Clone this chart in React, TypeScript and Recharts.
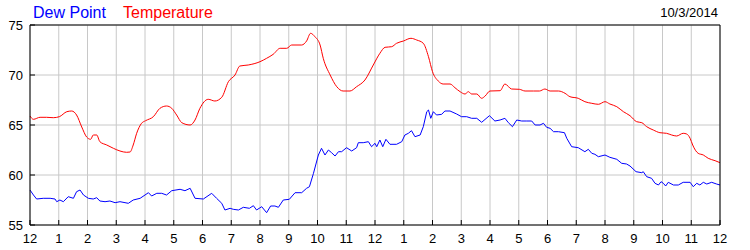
import { LineChart, Line, XAxis, YAxis, CartesianGrid } from 'recharts'

// hours since midnight, 10/3/2014
const tempHours = [
  0, 0.12, 0.35, 0.58, 0.81, 1.02, 1.28, 1.45, 1.62, 1.8, 1.97, 2.11, 2.2, 2.32, 2.43, 2.67, 2.9, 3.13, 3.36, 3.48,
  3.59, 3.71, 3.88, 4.02, 4.29, 4.52, 4.75, 4.93, 5.1, 5.28, 5.57, 5.74, 5.91, 6.2, 6.43, 6.67, 6.9, 7.13, 7.3, 7.59,
  8.0, 8.23, 8.46, 8.7, 8.93, 9.1, 9.45, 9.62, 9.76, 9.91, 10.09, 10.2, 10.44, 10.67, 10.89, 11.13, 11.36, 11.65, 11.94, 12.17,
  12.35, 12.58, 12.75, 12.99, 13.25, 13.45, 13.68, 13.86, 14.0, 14.2, 14.37, 14.61, 14.78, 14.96, 15.13, 15.25, 15.36, 15.54, 15.71, 15.83,
  16.0, 16.35, 16.52, 16.75, 17.02, 17.22, 17.51, 17.72, 17.91, 18.09, 18.38, 18.61, 18.78, 19.07, 19.3, 19.54, 19.77, 20.0, 20.17, 20.41,
  20.64, 20.87, 21.1, 21.28, 21.45, 21.68, 21.91, 22.14, 22.32, 22.49, 22.72, 22.84, 22.96, 23.05, 23.24, 23.42, 23.59, 23.83, 24.0,
]
const tempValues = [
  65.9, 65.57, 65.77, 65.77, 65.73, 65.83, 66.33, 66.4, 66.0, 64.8, 63.8, 63.57, 64.0, 64.0, 63.33, 63.0, 62.67, 62.4, 62.27, 62.3,
  63.0, 64.17, 65.17, 65.43, 65.83, 66.67, 66.9, 66.67, 66.0, 65.23, 65.0, 65.5, 66.67, 67.57, 67.4, 67.77, 69.33, 70.0, 70.9, 71.0,
  71.33, 71.67, 72.07, 72.67, 72.67, 73.0, 73.0, 73.4, 74.17, 73.83, 73.0, 71.67, 70.0, 68.83, 68.4, 68.4, 68.83, 69.5, 71.0, 72.17,
  72.77, 72.83, 73.17, 73.4, 73.67, 73.5, 73.17, 71.83, 70.33, 69.4, 69.1, 69.1, 68.73, 68.33, 68.1, 68.33, 68.1, 68.1, 67.67, 67.9,
  68.4, 68.43, 69.1, 68.6, 68.57, 68.4, 68.4, 68.4, 68.6, 68.4, 68.4, 68.17, 67.83, 67.67, 67.33, 67.17, 67.07, 67.33, 67.1, 66.83,
  66.33, 65.93, 65.33, 65.23, 64.83, 64.5, 64.23, 64.17, 64.0, 63.9, 64.17, 64.1, 63.67, 63.0, 62.17, 62.0, 61.67, 61.43, 61.23,
]

const dewHours = [
  0, 0.12, 0.23, 0.46, 0.7, 0.87, 0.93, 1.04, 1.16, 1.33, 1.51, 1.62, 1.74, 1.86, 2.03, 2.2, 2.32, 2.43, 2.61, 2.78,
  2.96, 3.13, 3.42, 3.59, 3.83, 4.12, 4.23, 4.41, 4.58, 4.75, 4.93, 5.22, 5.39, 5.57, 5.74, 6.03, 6.32, 6.49, 6.67, 6.78,
  6.96, 7.07, 7.25, 7.42, 7.63, 7.77, 7.88, 8.06, 8.23, 8.37, 8.52, 8.64, 8.81, 9.02, 9.22, 9.45, 9.62, 9.72, 9.86, 10.03,
  10.14, 10.26, 10.38, 10.49, 10.61, 10.73, 10.84, 11.01, 11.19, 11.36, 11.42, 11.59, 11.77, 11.88, 12.0, 12.06, 12.17, 12.27, 12.38, 12.52,
  12.75, 12.93, 13.04, 13.16, 13.27, 13.39, 13.57, 13.68, 13.8, 13.86, 13.94, 14.03, 14.14, 14.32, 14.43, 14.61, 14.84, 15.01, 15.19, 15.36,
  15.54, 15.71, 15.98, 16.17, 16.35, 16.52, 16.64, 16.78, 16.93, 17.1, 17.28, 17.45, 17.57, 17.74, 17.86, 17.97, 18.09, 18.21, 18.38, 18.59,
  18.67, 18.84, 19.07, 19.3, 19.42, 19.54, 19.65, 19.77, 20.0, 20.17, 20.41, 20.58, 20.75, 20.87, 21.08, 21.28, 21.33, 21.45, 21.62, 21.74,
  21.86, 21.95, 22.03, 22.11, 22.2, 22.38, 22.55, 22.72, 22.96, 23.07, 23.19, 23.3, 23.42, 23.54, 23.71, 23.88, 24.0,
]
const dewValues = [
  58.5, 58.0, 57.6, 57.67, 57.67, 57.6, 57.33, 57.5, 57.33, 57.83, 57.67, 58.33, 58.5, 58.0, 57.67, 57.6, 57.73, 57.4, 57.33, 57.4,
  57.23, 57.33, 57.17, 57.5, 57.67, 58.23, 57.9, 58.17, 58.17, 58.0, 58.43, 58.57, 58.43, 58.67, 57.67, 57.6, 58.17, 57.67, 57.17, 56.5,
  56.67, 56.57, 56.5, 56.77, 56.67, 56.93, 56.5, 56.83, 56.23, 56.9, 56.9, 56.77, 57.5, 57.57, 58.23, 58.23, 58.67, 58.83, 60.17, 62.0,
  62.67, 62.0, 62.5, 62.23, 61.9, 62.33, 62.33, 62.73, 62.4, 62.73, 63.23, 63.23, 63.33, 62.83, 63.17, 62.83, 63.5, 62.83, 63.57, 63.07,
  63.07, 63.33, 64.0, 64.17, 64.43, 63.83, 64.0, 64.83, 66.33, 66.5, 65.67, 66.33, 66.0, 66.07, 66.4, 66.4, 66.1, 65.83, 65.83, 65.67,
  65.67, 65.27, 65.93, 65.4, 65.5, 65.67, 65.23, 64.83, 65.5, 65.4, 65.4, 65.4, 65.0, 65.0, 65.17, 64.77, 64.67, 64.33, 64.33, 64.23,
  63.67, 62.83, 62.73, 62.33, 62.57, 62.17, 62.07, 61.83, 62.0, 61.77, 61.57, 61.17, 61.1, 60.9, 60.33, 60.23, 60.33, 59.83, 59.67, 59.17,
  59.0, 59.33, 59.17, 58.9, 59.27, 59.0, 59.0, 59.27, 59.27, 58.83, 59.17, 59.0, 59.27, 59.1, 59.27, 59.1, 59.0,
]

const hourTicks = [0, 1, 2, 3, 4, 5, 6, 7, 8, 9, 10, 11, 12, 13, 14, 15, 16, 17, 18, 19, 20, 21, 22, 23, 24]
const tempTicks = [55, 60, 65, 70, 75]

const tempData = tempHours.map((h, i) => ({ h, v: tempValues[i] }))
const dewData = dewHours.map((h, i) => ({ h, v: dewValues[i] }))

const font = 'Liberation Sans, Arial, sans-serif'
const tickStyle = { fontSize: 13, fill: '#000', fontFamily: font }
const hourLabel = (h: number) => String(h % 12 === 0 ? 12 : h % 12)

export default function App() {
  return (
    <div style={{ position: 'absolute', left: 0, top: 0, width: 750, height: 250, background: '#fff' }}>
      <LineChart width={750} height={250} margin={{ top: 0, right: 0, bottom: 0, left: 0 }}>
        <CartesianGrid stroke="#c8c8c8" />
        <XAxis
          dataKey="h"
          type="number"
          domain={[0, 24]}
          ticks={hourTicks}
          tickFormatter={hourLabel}
          height={25}
          tickSize={-5}
          tickMargin={14}
          tick={tickStyle}
          axisLine={{ stroke: '#000' }}
          tickLine={{ stroke: '#000' }}
          allowDuplicatedCategory={false}
        />
        <XAxis
          xAxisId="top"
          orientation="top"
          dataKey="h"
          type="number"
          domain={[0, 24]}
          ticks={hourTicks}
          tickFormatter={() => ''}
          height={25}
          tickSize={-5}
          axisLine={{ stroke: '#000' }}
          tickLine={{ stroke: '#000' }}
        />
        <YAxis
          type="number"
          domain={[55, 75]}
          ticks={tempTicks}
          width={30}
          tickSize={-5}
          tickMargin={12}
          tick={tickStyle}
          axisLine={{ stroke: '#000' }}
          tickLine={{ stroke: '#000' }}
        />
        <YAxis
          yAxisId="right"
          orientation="right"
          type="number"
          domain={[55, 75]}
          ticks={tempTicks}
          width={30}
          tickSize={-5}
          tickMargin={12}
          tick={{ ...tickStyle, textAnchor: 'start' }}
          axisLine={{ stroke: '#000' }}
          tickLine={{ stroke: '#000' }}
        />
        <Line
          data={dewData}
          dataKey="v"
          type="linear"
          stroke="#0000ff"
          strokeWidth={1}
          dot={false}
          isAnimationActive={false}
        />
        <Line
          data={tempData}
          dataKey="v"
          type="monotone"
          stroke="#ff0000"
          strokeWidth={1}
          dot={false}
          isAnimationActive={false}
        />
      </LineChart>
      <svg width={750} height={25} style={{ position: 'absolute', left: 0, top: 0, pointerEvents: 'none' }}>
        <text x={33} y={18} fontSize={16} fontFamily={font} fill="#0000ff">Dew Point</text>
        <text x={123} y={18} fontSize={16} fontFamily={font} fill="#ff0000">Temperature</text>
        <text x={718} y={17} fontSize={13} fontFamily={font} fill="#000" textAnchor="end">10/3/2014</text>
      </svg>
    </div>
  )
}
